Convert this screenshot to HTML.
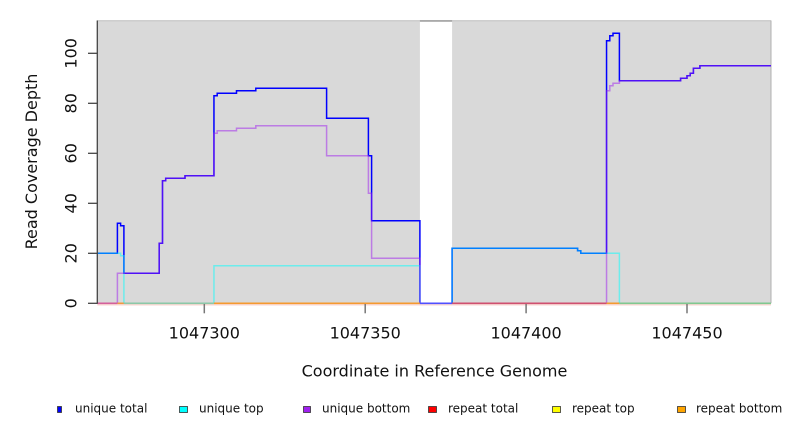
<!DOCTYPE html>
<html>
<head>
<meta charset="utf-8">
<style>
  html, body { margin: 0; padding: 0; background: #ffffff; }
  svg { display: block; }
  text { font-family: "DejaVu Sans", "Liberation Sans", sans-serif; fill: #111; }
</style>
</head>
<body>
<svg width="792" height="432" viewBox="0 0 792 432" xmlns="http://www.w3.org/2000/svg">
  <!-- plot background -->
  <rect x="97.3" y="20.5" width="322.6" height="282.8" fill="#d9d9d9"/>
  <rect x="452.1" y="20.5" width="318.9" height="282.8" fill="#d9d9d9"/>
  <!-- top edge -->
  <line x1="97.3" y1="20.8" x2="771" y2="20.8" stroke="#bdbdbd" stroke-width="1"/>
  <line x1="419.9" y1="21" x2="452.1" y2="21" stroke="#8c8c8c" stroke-width="1.2"/>
  <!-- right edge -->
  <line x1="771" y1="20.5" x2="771" y2="303.3" stroke="#b0b0b0" stroke-width="1"/>

  <!-- unique total (blue) -->
  <path d="M97.3,253.3 H117.4 V223.3 H120.6 V225.8 H123.9 V273.3 H159.2 V243.3 H162.5 V180.8 H165.7 V178.3 H185.0 V175.8 H213.95 V95.8 H217.2 V93.3 H236.5 V90.8 H255.8 V88.3 H326.6 V118.3 H368.4 V155.8 H371.6 V220.8 H419.9 V303.3 H452.1 V248.3 H577.6 V250.8 H580.8 V253.3 H606.55 V40.8 H609.8 V35.8 H613.0 V33.3 H619.4 V80.8 H680.6 V78.3 H687.0 V75.8 H690.2 V73.3 H693.4 V68.3 H699.9 V65.8 H771"
        fill="none" stroke="#0000ff" stroke-width="1.5"/>
  <!-- unique top (cyan, translucent) -->
  <path d="M97.3,253.3 H120.6 V255.8 H123.9 V303.3 H213.95 V265.8 H419.9 V303.3 H452.1 V248.3 H577.6 V250.8 H580.8 V253.3 H619.4 V303.3 H771"
        fill="none" stroke="#00ffff" stroke-opacity="0.5" stroke-width="1.5"/>
  <!-- unique bottom (purple, translucent) -->
  <path d="M97.3,303.3 H117.4 V273.3 H159.2 V243.3 H162.5 V180.8 H165.7 V178.3 H185.0 V175.8 H213.95 V133.3 H217.2 V130.8 H236.5 V128.3 H255.8 V125.8 H326.6 V155.8 H368.4 V193.3 H371.6 V258.3 H419.9 V303.3 H606.55 V90.8 H609.8 V85.8 H613.0 V83.3 H619.4 V80.8 H680.6 V78.3 H687.0 V75.8 H690.2 V73.3 H693.4 V68.3 H699.9 V65.8 H771"
        fill="none" stroke="#a020f0" stroke-opacity="0.5" stroke-width="1.5"/>

  <!-- baseline segments (overlapping zero-level series) -->
  <line x1="97.3" y1="304.9" x2="771" y2="304.9" stroke="#f8c8c0" stroke-width="1"/>
  <g stroke-width="1.6">
    <line x1="97.3" y1="303.3" x2="117.4" y2="303.3" stroke="#d4609c"/>
    <line x1="117.4" y1="303.3" x2="123.9" y2="303.3" stroke="#f09a40"/>
    <line x1="123.9" y1="303.3" x2="213.95" y2="303.3" stroke="#8cc8a8"/>
    <line x1="213.95" y1="303.3" x2="419.9" y2="303.3" stroke="#f59a30"/>
    <line x1="419.9" y1="303.3" x2="452.1" y2="303.3" stroke="#5050ff"/>
    <line x1="452.1" y1="303.3" x2="606.55" y2="303.3" stroke="#d05070"/>
    <line x1="606.55" y1="303.3" x2="619.4" y2="303.3" stroke="#f59a30"/>
    <line x1="619.4" y1="303.3" x2="771" y2="303.3" stroke="#80c890"/>
  </g>

  <!-- left axis -->
  <line x1="97.3" y1="20.5" x2="97.3" y2="303.8" stroke="#444" stroke-width="1.3"/>
  <g stroke="#444" stroke-width="1.3">
    <line x1="88" y1="303.3" x2="97.3" y2="303.3"/>
    <line x1="88" y1="253.3" x2="97.3" y2="253.3"/>
    <line x1="88" y1="203.3" x2="97.3" y2="203.3"/>
    <line x1="88" y1="153.3" x2="97.3" y2="153.3"/>
    <line x1="88" y1="103.3" x2="97.3" y2="103.3"/>
    <line x1="88" y1="53.3" x2="97.3" y2="53.3"/>
  </g>
  <g font-size="16" text-anchor="middle">
    <text transform="translate(76.5,303.3) rotate(-90)">0</text>
    <text transform="translate(76.5,253.3) rotate(-90)">20</text>
    <text transform="translate(76.5,203.3) rotate(-90)">40</text>
    <text transform="translate(76.5,153.3) rotate(-90)">60</text>
    <text transform="translate(76.5,103.3) rotate(-90)">80</text>
    <text transform="translate(76.5,53.3) rotate(-90)">100</text>
  </g>
  <text font-size="16" text-anchor="middle" transform="translate(37,161.5) rotate(-90)">Read Coverage Depth</text>

  <!-- x axis ticks -->
  <g stroke="#777" stroke-width="1.5">
    <line x1="204.3" y1="304" x2="204.3" y2="313.3"/>
    <line x1="365.2" y1="304" x2="365.2" y2="313.3"/>
    <line x1="526.1" y1="304" x2="526.1" y2="313.3"/>
    <line x1="687.0" y1="304" x2="687.0" y2="313.3"/>
  </g>
  <g font-size="16" text-anchor="middle">
    <text x="204.3" y="338.3">1047300</text>
    <text x="365.2" y="338.3">1047350</text>
    <text x="526.1" y="338.3">1047400</text>
    <text x="687.0" y="338.3">1047450</text>
  </g>
  <text x="434.5" y="376.7" font-size="16" text-anchor="middle">Coordinate in Reference Genome</text>

  <!-- legend -->
  <g stroke="#333" stroke-width="0.8">
    <rect x="57.5" y="406.5" width="4" height="6" fill="#0000ff"/>
    <rect x="179.5" y="406.5" width="8" height="6" fill="#00ffff"/>
    <rect x="303.5" y="406.5" width="7" height="6" fill="#a020f0"/>
    <rect x="428.5" y="406.5" width="8" height="6" fill="#ff0000"/>
    <rect x="552.5" y="406.5" width="8" height="6" fill="#ffff00"/>
    <rect x="677.5" y="406.5" width="8" height="6" fill="#ffa500"/>
  </g>
  <g font-size="12">
    <text x="75" y="412.5">unique total</text>
    <text x="199" y="412.5">unique top</text>
    <text x="322" y="412.5">unique bottom</text>
    <text x="448" y="412.5">repeat total</text>
    <text x="572" y="412.5">repeat top</text>
    <text x="696" y="412.5">repeat bottom</text>
  </g>
</svg>
</body>
</html>
